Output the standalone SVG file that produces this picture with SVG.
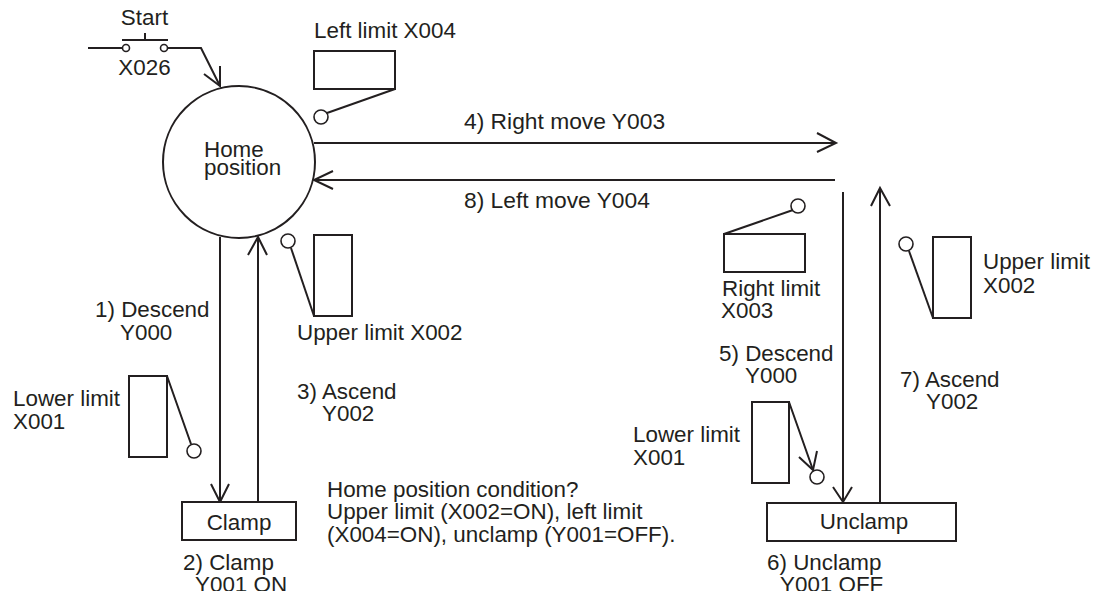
<svg xmlns="http://www.w3.org/2000/svg" width="1096" height="591" viewBox="0 0 1096 591">
<style>
text{font-family:"Liberation Sans",Arial,sans-serif;font-size:22.4px;fill:#231f20}
.l{fill:none;stroke:#231f20;stroke-width:2}
.b{fill:#fff;stroke:#231f20;stroke-width:2}
.c{fill:#fff;stroke:#231f20;stroke-width:1.6}
.a{fill:none;stroke:#231f20;stroke-width:2}
.w{font-size:22.8px}
</style>
<g id="connectors">
<path class="l" d="M88 48H122M168 48H201L220 86"/><path class="a" d="M204 74L220 86V66"/>
<path class="l" d="M314 143H836"/><path class="a" d="M817 133L836 143L817 152"/>
<path class="l" d="M835 180H314"/><path class="a" d="M333 171L314 180L333 189"/>
<path class="l" d="M220 237V502"/><path class="a" d="M211 484L220 502L229 484"/>
<path class="l" d="M258 502V237"/><path class="a" d="M248 255L258 237L267 255"/>
<path class="l" d="M843 192V502"/><path class="a" d="M833 487L843 502L852 487"/>
<path class="l" d="M880 502V188"/><path class="a" d="M871 206L880 188L890 206"/>
</g>
<g id="start-switch">
<text x="144.500" y="25" text-anchor="middle">Start</text>
<path class="l" d="M122 40H168M145 33V40"/>
<circle class="c" cx="126" cy="48" r="3.5"/><circle class="c" cx="164" cy="48" r="3.5"/>
<text x="144.500" y="75" text-anchor="middle">X026</text>
</g>
<g id="home-position">
<circle class="b" cx="239" cy="162" r="76"/>
<text x="204" y="157">Home</text><text x="204" y="175">position</text>
</g>
<g id="left-limit">
<text x="314" y="38">Left limit X004</text>
<rect class="b" x="314" y="51" width="81" height="38"/>
<path class="l" d="M395 89L327 113"/><circle class="c" cx="321" cy="117" r="7"/>
</g>
<g id="upper-limit-left">
<rect class="b" x="314" y="235" width="38" height="81"/>
<path class="l" d="M314 316L291 248"/><circle class="c" cx="288" cy="241" r="7"/>
<text x="297" y="340">Upper limit X002</text>
</g>
<g id="lower-limit-left">
<rect class="b" x="129" y="376" width="38" height="81"/>
<path class="l" d="M167 376L191 444"/><circle class="c" cx="194" cy="451" r="7"/>
<text x="13" y="406">Lower limit</text><text x="13" y="429">X001</text>
</g>
<g id="clamp">
<rect class="b" x="182" y="502" width="114" height="38"/>
<text x="239" y="530" text-anchor="middle">Clamp</text>
<text x="183" y="570">2) Clamp</text><text x="195" y="592">Y001 ON</text>
</g>
<g id="unclamp">
<rect class="b" x="767" y="503" width="189" height="38"/>
<text x="864" y="529" text-anchor="middle">Unclamp</text>
<text x="767" y="570">6) Unclamp</text><text x="780" y="592">Y001 OFF</text>
</g>
<g id="right-limit">
<rect class="b" x="724" y="234" width="81" height="38"/>
<path class="l" d="M724 234L793 210"/><circle class="c" cx="798" cy="206" r="7"/>
<text x="722" y="296">Right limit</text><text x="721" y="318">X003</text>
</g>
<g id="upper-limit-right">
<rect class="b" x="933" y="237" width="38" height="81"/>
<path class="l" d="M933 318L909 251"/><circle class="c" cx="906" cy="244" r="7"/>
<text x="983" y="269">Upper limit</text><text x="983" y="293">X002</text>
</g>
<g id="lower-limit-right">
<rect class="b" x="752" y="402" width="37" height="81"/>
<path class="l" d="M789 402L813 470"/><path class="a" d="M799 457L813 470L817 451"/><circle class="c" cx="817" cy="477" r="7"/>
<text x="633" y="442">Lower limit</text><text x="633" y="465">X001</text>
</g>
<g id="labels">
<text class="w" x="464" y="129">4) Right move Y003</text>
<text class="w" x="464" y="208">8) Left move Y004</text>
<text x="95" y="317">1) Descend</text><text x="120" y="340">Y000</text>
<text x="297" y="399">3) Ascend</text><text x="322" y="421">Y002</text>
<text x="719" y="361">5) Descend</text><text x="745" y="383">Y000</text>
<text x="900" y="387">7) Ascend</text><text x="926" y="409">Y002</text>
<text x="327" y="497">Home position condition?</text>
<text x="327" y="519">Upper limit (X002=ON), left limit</text>
<text x="327" y="542">(X004=ON), unclamp (Y001=OFF).</text>
</g>
</svg>
